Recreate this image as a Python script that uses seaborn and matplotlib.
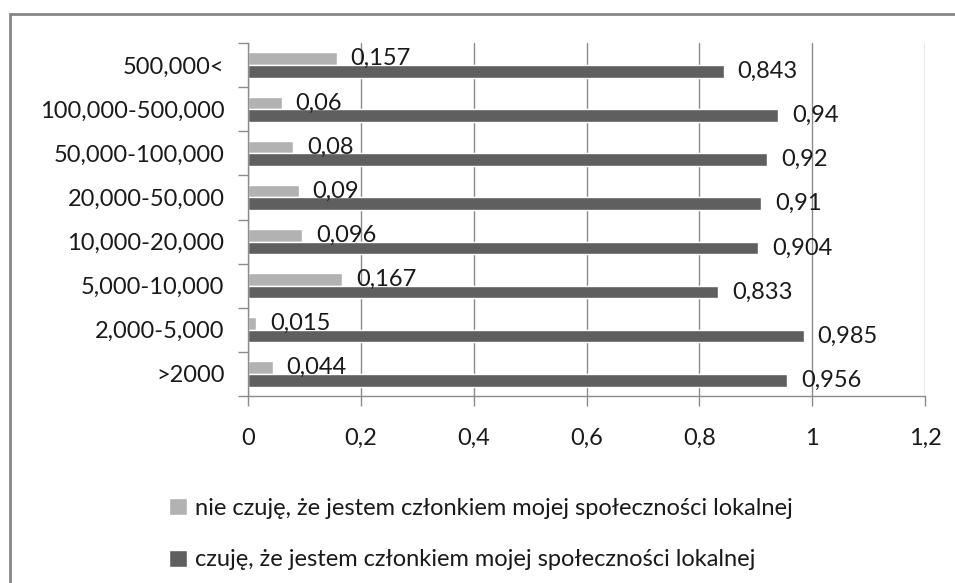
"""
Poczucie przynależności do społeczności lokalnej wg wielkości miejscowości.
"""

import pandas as pd
import matplotlib.pyplot as plt
import seaborn as sns
from matplotlib.patches import Rectangle
from matplotlib.ticker import FixedLocator

# dane (od góry do dołu)
categories = ["500,000<", "100,000-500,000", "50,000-100,000", "20,000-50,000",
              "10,000-20,000", "5,000-10,000", "2,000-5,000", ">2000"]
nie_czuje = [0.157, 0.06, 0.08, 0.09, 0.096, 0.167, 0.015, 0.044]
czuje = [0.843, 0.94, 0.92, 0.91, 0.904, 0.833, 0.985, 0.956]
series_names = ["nie czuję, że jestem członkiem mojej społeczności lokalnej",
                "czuję, że jestem członkiem mojej społeczności lokalnej"]
x_ticks = [0, 0.2, 0.4, 0.6, 0.8, 1, 1.2]
x_tick_labels = ["0", "0,2", "0,4", "0,6", "0,8", "1", "1,2"]

df = pd.DataFrame({
    "kategoria": categories * 2,
    "seria": [series_names[0]] * len(categories) + [series_names[1]] * len(categories),
    "wartosc": nie_czuje + czuje,
})

sns.set_theme(style="white")
plt.rcParams['font.family'] = ['Lato', 'DejaVu Sans']
FS = 17

fig = plt.figure(figsize=(9.55, 5.83), dpi=100)
ax = fig.add_axes([248 / 955, 1 - 396 / 583, (925 - 248) / 955, (396 - 43) / 583])

sns.barplot(data=df, y="kategoria", x="wartosc", hue="seria", order=categories,
            hue_order=series_names, palette=["#b2b2b2", "#5f5f5f"],
            width=0.57, gap=0, orient="h", ax=ax, legend=True)

# etykiety wartości z przecinkiem dziesiętnym
for cont in ax.containers:
    vals = cont.datavalues
    ax.bar_label(cont, labels=[f"{v:g}".replace(".", ",") for v in vals],
                 padding=10, fontsize=FS, color="#1a1a1a")

ax.set_xlim(0, 1.2)
ax.set_ylim(len(categories) - 0.5, -0.5)
ax.set_xticks(x_ticks)
ax.set_xticklabels(x_tick_labels)
ax.xaxis.grid(True, color="#8c8c8c", linewidth=1)
ax.set_axisbelow(True)
ax.set_xlabel("")
ax.set_ylabel("")

# kreski osi Y na granicach kategorii
ax.yaxis.set_minor_locator(FixedLocator([i - 0.5 for i in range(len(categories) + 1)]))
ax.tick_params(axis="y", which="major", length=0, pad=17, labelsize=FS, labelcolor="#1a1a1a")
ax.tick_params(axis="y", which="minor", left=True, length=7, width=1, color="#8c8c8c")
ax.tick_params(axis="x", which="major", bottom=True, length=7, width=1, color="#8c8c8c",
               pad=16, labelsize=FS, labelcolor="#1a1a1a")

for side in ["top", "right"]:
    ax.spines[side].set_visible(False)
for side in ["left", "bottom"]:
    ax.spines[side].set_color("#8c8c8c")
    ax.spines[side].set_linewidth(1)

# legenda pod wykresem
handles, labels = ax.get_legend_handles_labels()
ax.get_legend().remove()
fig.legend(handles, labels, loc="upper left", bbox_to_anchor=(157 / 955, 1 - 486 / 583),
           frameon=False, fontsize=FS, handlelength=0.75, handleheight=0.75,
           handletextpad=0.35, labelspacing=1.3, borderpad=0, labelcolor="#1a1a1a")

# ramka obszaru wykresu
fig.patches.append(Rectangle((10 / 955, -0.1), 1.2, 1 - 14 / 583 + 0.1,
                             transform=fig.transFigure, fill=False,
                             edgecolor="#868686", linewidth=2))

fig.savefig("out.png", dpi=100)
